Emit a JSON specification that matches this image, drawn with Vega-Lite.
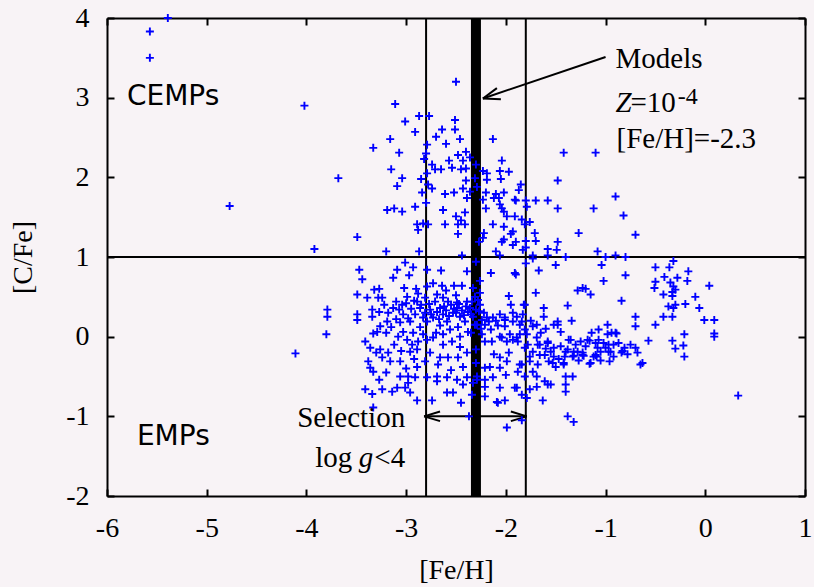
{
  "$schema": "https://vega.github.io/schema/vega-lite/v6.json",
  "width": 698,
  "height": 478,
  "autosize": "none",
  "padding": {"left": 107, "top": 18, "right": 9, "bottom": 91},
  "background": "#f8f3f6",
  "config": {
    "view": {"stroke": null},
    "axis": {
      "grid": false,
      "domainColor": "#000000",
      "domainWidth": 2,
      "tickColor": "#000000",
      "tickWidth": 2,
      "tickSize": -7,
      "labelFont": "Liberation Serif",
      "labelFontSize": 28,
      "labelColor": "#000000",
      "labelPadding": 25,
      "labelFlush": false,
      "labelOverlap": false,
      "labelBound": false,
      "labelExpr": "'' + datum.value",
      "titleFont": "Liberation Serif",
      "titleFontSize": 28,
      "titleFontWeight": "normal",
      "titleColor": "#000000"
    }
  },
  "datasets": {
    "stars": [
      {"x":-5.57,"y":3.83},{"x":-5.57,"y":3.50},{"x":-5.39,"y":4.00},{"x":-4.02,"y":2.90},{"x":-4.77,"y":1.64},{"x":-3.92,"y":1.10},{"x":-4.11,"y":-0.21},{"x":-3.68,"y":1.99},{"x":-3.49,"y":1.25},{"x":-3.79,"y":0.34},{"x":-3.79,"y":0.25},{"x":-3.80,"y":0.03},{"x":-3.33,"y":2.37},{"x":-3.20,"y":1.07},{"x":-3.47,"y":0.84},{"x":-3.44,"y":0.72},
      {"x":-3.11,"y":2.92},{"x":-2.87,"y":2.77},{"x":-2.77,"y":2.77},{"x":-3.01,"y":2.70},{"x":-2.51,"y":2.72},{"x":-2.91,"y":2.57},{"x":-2.64,"y":2.60},{"x":-2.51,"y":2.60},{"x":-3.16,"y":2.48},{"x":-2.70,"y":2.51},{"x":-2.60,"y":2.42},{"x":-2.46,"y":2.48},{"x":-2.13,"y":2.48},{"x":-2.79,"y":2.41},{"x":-3.07,"y":2.31},{"x":-2.80,"y":2.30},{"x":-2.82,"y":2.23},{"x":-2.48,"y":2.28},{"x":-2.40,"y":2.32},{"x":-2.57,"y":2.21},{"x":-2.43,"y":2.21},{"x":-2.36,"y":2.25},{"x":-2.04,"y":2.21},{"x":-3.15,"y":2.10},{"x":-2.74,"y":2.16},{"x":-2.71,"y":2.10},{"x":-2.65,"y":2.10},{"x":-2.54,"y":2.12},{"x":-2.45,"y":2.10},{"x":-2.40,"y":2.11},{"x":-2.30,"y":2.16},{"x":-2.23,"y":2.08},{"x":-2.19,"y":2.05},{"x":-2.06,"y":2.08},{"x":-1.97,"y":2.07},{"x":-3.04,"y":1.99},{"x":-2.85,"y":1.98},{"x":-2.79,"y":2.05},{"x":-2.40,"y":1.96},{"x":-2.31,"y":1.99},{"x":-2.19,"y":1.97},{"x":-2.05,"y":1.98},{"x":-1.48,"y":1.96},{"x":-3.09,"y":1.89},{"x":-2.78,"y":1.91},{"x":-2.74,"y":1.86},{"x":-2.29,"y":1.88},{"x":-1.85,"y":1.91},{"x":-1.87,"y":1.84},{"x":-2.84,"y":1.81},{"x":-2.61,"y":1.79},{"x":-2.52,"y":1.81},{"x":-2.43,"y":1.86},{"x":-2.39,"y":1.74},{"x":-2.36,"y":1.82},{"x":-2.23,"y":1.72},{"x":-2.20,"y":1.81},{"x":-2.10,"y":1.79},{"x":-2.02,"y":1.81},{"x":-2.12,"y":1.74},{"x":-2.07,"y":1.74},{"x":-1.90,"y":1.71},{"x":-1.80,"y":1.71},{"x":-1.70,"y":1.71},{"x":-1.58,"y":1.71},{"x":-2.91,"y":1.63},{"x":-2.80,"y":1.68},{"x":-3.19,"y":1.59},{"x":-3.12,"y":1.61},{"x":-3.04,"y":1.57},{"x":-2.63,"y":1.59},{"x":-2.41,"y":1.56},{"x":-2.20,"y":1.61},{"x":-2.04,"y":1.61},{"x":-2.02,"y":1.57},{"x":-1.79,"y":1.63},{"x":-1.48,"y":1.61},{"x":-2.50,"y":1.51},{"x":-2.45,"y":1.46},{"x":-1.99,"y":1.51},{"x":-1.91,"y":1.51},{"x":-1.84,"y":1.47},{"x":-1.76,"y":1.44},{"x":-2.89,"y":1.41},{"x":-2.83,"y":1.42},{"x":-2.78,"y":1.41},{"x":-2.61,"y":1.41},{"x":-2.48,"y":1.41},{"x":-2.41,"y":1.41},{"x":-2.13,"y":1.41},{"x":-2.02,"y":1.38},{"x":-1.81,"y":1.41},{"x":-2.88,"y":1.34},{"x":-2.48,"y":1.29},{"x":-1.93,"y":1.32},{"x":-1.95,"y":1.29},{"x":-1.71,"y":1.30},{"x":-2.22,"y":1.30},{"x":-2.23,"y":1.24},{"x":-2.27,"y":1.19},{"x":-2.02,"y":1.22},{"x":-2.04,"y":1.19},{"x":-1.90,"y":1.19},{"x":-1.93,"y":1.15},{"x":-1.80,"y":1.20},{"x":-1.80,"y":1.12},{"x":-1.70,"y":1.20},{"x":-1.58,"y":1.10},{"x":-1.48,"y":1.19},{"x":-2.87,"y":1.07},{"x":-2.10,"y":1.07},{"x":-1.83,"y":1.09},{"x":-2.44,"y":1.02},{"x":-2.06,"y":1.02},{"x":-1.73,"y":1.02},{"x":-1.58,"y":1.02},{"x":-1.49,"y":1.09},
      {"x":-2.50,"y":3.20},{"x":-1.42,"y":2.31},{"x":-1.10,"y":2.31},{"x":-0.90,"y":1.76},{"x":-2.06,"y":1.66},{"x":-1.91,"y":1.72},
      {"x":-1.12,"y":1.61},{"x":-0.82,"y":1.52},{"x":-0.70,"y":1.28},{"x":-1.27,"y":1.30},{"x":-1.08,"y":1.07},{"x":-1.00,"y":1.00},{"x":-0.90,"y":1.02},{"x":-0.80,"y":1.00},{"x":-1.40,"y":1.00},{"x":-1.04,"y":0.90},{"x":-0.80,"y":0.77},{"x":-1.02,"y":0.70},{"x":-0.50,"y":0.87},{"x":-0.36,"y":0.87},{"x":-0.32,"y":0.95},{"x":-0.17,"y":0.82},{"x":-0.41,"y":0.75},{"x":-0.28,"y":0.74},{"x":-0.18,"y":0.70},{"x":-0.50,"y":0.69},{"x":-0.51,"y":0.61},{"x":-0.35,"y":0.68},{"x":-0.32,"y":0.63},{"x":-0.30,"y":0.59},{"x":-0.33,"y":0.56},{"x":0.04,"y":0.64},{"x":-1.28,"y":0.58},{"x":-1.20,"y":0.60},{"x":-1.15,"y":0.53},{"x":-0.42,"y":0.53},{"x":-0.33,"y":0.51},{"x":-0.10,"y":0.50},{"x":-0.84,"y":0.45},{"x":-1.38,"y":0.39},{"x":-0.37,"y":0.38},{"x":-0.30,"y":0.40},{"x":-0.32,"y":0.36},{"x":-0.20,"y":0.41},{"x":-0.06,"y":0.36},{"x":-0.42,"y":0.25},{"x":-0.33,"y":0.25},{"x":-0.01,"y":0.21},{"x":0.09,"y":0.21},{"x":-1.34,"y":0.20},{"x":-0.70,"y":0.25},{"x":-0.70,"y":0.13},{"x":-0.50,"y":0.15},{"x":-0.98,"y":0.15},{"x":-1.07,"y":0.09},{"x":-1.14,"y":0.05},{"x":-0.94,"y":0.05},{"x":-0.89,"y":0.04},{"x":-0.21,"y":0.03},{"x":0.09,"y":0.04},{"x":0.09,"y":0.00},{"x":-0.57,"y":-0.05},{"x":-0.33,"y":-0.05},{"x":-0.22,"y":-0.11},{"x":-0.30,"y":-0.15},{"x":-0.21,"y":-0.25},{"x":-1.37,"y":-0.04},{"x":-1.25,"y":-0.06},{"x":-1.16,"y":-0.05},{"x":-1.07,"y":-0.04},{"x":-1.02,"y":-0.08},{"x":-0.97,"y":-0.10},{"x":-0.92,"y":-0.10},{"x":-1.08,"y":-0.14},{"x":-1.00,"y":-0.14},{"x":-0.97,"y":-0.19},{"x":-0.83,"y":-0.18},{"x":-0.81,"y":-0.14},{"x":-0.84,"y":-0.20},{"x":-0.70,"y":-0.14},{"x":-0.68,"y":-0.20},{"x":-1.40,"y":-0.19},{"x":-1.32,"y":-0.19},{"x":-1.23,"y":-0.20},{"x":-1.32,"y":-0.24},{"x":-1.22,"y":-0.24},{"x":-1.12,"y":-0.25},{"x":-1.09,"y":-0.25},{"x":-1.41,"y":-0.25},{"x":-0.96,"y":-0.31},{"x":-1.16,"y":-0.34},{"x":-0.63,"y":-0.33},{"x":-0.65,"y":-0.35},{"x":-1.42,"y":-0.35},{"x":-1.33,"y":-0.50},{"x":-1.40,"y":-0.50},{"x":-1.40,"y":-0.60},{"x":-1.40,"y":-0.69},{"x":0.33,"y":-0.74},{"x":-1.38,"y":-1.00},{"x":-1.32,"y":-1.07},
      {"x":-1.91,"y":0.80},{"x":-1.67,"y":0.83},{"x":-1.97,"y":0.51},{"x":-1.70,"y":0.55},{"x":-1.80,"y":0.92},{"x":-1.73,"y":0.98},{"x":-1.50,"y":0.90},{"x":-1.23,"y":0.61},{"x":-1.62,"y":0.36},{"x":-1.62,"y":0.25},{"x":-1.93,"y":0.30},{"x":-1.81,"y":0.40},{"x":-1.52,"y":0.15},{"x":-1.48,"y":0.19},{"x":-1.45,"y":0.06},{"x":-1.35,"y":-0.04},{"x":-1.18,"y":-0.04},{"x":-0.98,"y":0.03},{"x":-0.90,"y":0.05},{"x":-0.95,"y":-0.19},{"x":-1.05,"y":-0.19},{"x":-1.15,"y":-0.33},{"x":-1.10,"y":-0.23},{"x":-1.23,"y":-0.23},{"x":-1.28,"y":-0.19},{"x":-1.38,"y":-0.16},{"x":-1.33,"y":-0.25},{"x":-1.58,"y":-0.08},{"x":-1.55,"y":-0.19},{"x":-1.52,"y":-0.25},{"x":-1.42,"y":-0.33},{"x":-1.53,"y":-0.33},{"x":-1.61,"y":-0.23},{"x":-1.68,"y":-0.10},{"x":-1.73,"y":-0.19},{"x":-1.78,"y":-0.10},{"x":-1.76,"y":-0.25},{"x":-1.68,"y":-0.35},{"x":-1.73,"y":-0.44},{"x":-1.88,"y":-0.44},{"x":-1.81,"y":-0.50},{"x":-1.69,"y":-0.50},{"x":-1.61,"y":-0.56},{"x":-1.55,"y":-0.60},{"x":-1.69,"y":-0.63},{"x":-1.76,"y":-0.66},{"x":-1.91,"y":-0.64},{"x":-1.84,"y":-0.73},{"x":-1.79,"y":-0.77},{"x":-1.63,"y":-0.80},{"x":-2.01,"y":-0.80},{"x":-1.84,"y":-1.05},{"x":-1.99,"y":-1.14},{"x":-1.86,"y":0.15},{"x":-1.86,"y":0.03},{"x":-1.81,"y":0.09},{"x":-1.73,"y":0.13},{"x":-1.69,"y":0.15},{"x":-1.88,"y":-0.06},{"x":-1.81,"y":-0.14},{"x":-1.84,"y":-0.35},{"x":-1.97,"y":-0.20},{"x":-2.01,"y":0.21},{"x":-2.01,"y":0.13},{"x":-1.96,"y":0.03},{"x":-1.93,"y":-0.04},{"x":-2.04,"y":-0.01},{"x":-2.06,"y":-0.26},
      {"x":-3.09,"y":0.84},{"x":-3.01,"y":0.93},{"x":-2.93,"y":0.87},{"x":-2.97,"y":0.77},{"x":-3.13,"y":0.74},{"x":-2.79,"y":0.84},{"x":-2.65,"y":0.83},{"x":-2.39,"y":0.82},{"x":-2.15,"y":0.80},{"x":-1.90,"y":0.78},{"x":-2.26,"y":0.70},{"x":-2.73,"y":0.67},{"x":-2.64,"y":0.64},{"x":-2.52,"y":0.64},{"x":-2.44,"y":0.64},{"x":-2.33,"y":0.61},{"x":-3.32,"y":0.59},{"x":-3.27,"y":0.60},{"x":-3.49,"y":0.53},{"x":-3.39,"y":0.49},{"x":-3.28,"y":0.49},{"x":-3.24,"y":0.49},{"x":-3.02,"y":0.61},{"x":-2.99,"y":0.50},{"x":-2.88,"y":0.54},{"x":-2.79,"y":0.63},{"x":-3.10,"y":0.44},{"x":-3.04,"y":0.40},{"x":-3.13,"y":0.36},{"x":-2.89,"y":0.44},{"x":-2.81,"y":0.49},{"x":-2.69,"y":0.53},{"x":-2.63,"y":0.49},{"x":-2.58,"y":0.44},{"x":-2.49,"y":0.43},{"x":-2.39,"y":0.44},{"x":-2.31,"y":0.50},{"x":-2.26,"y":0.55},{"x":-3.49,"y":0.28},{"x":-3.49,"y":0.21},{"x":-3.34,"y":0.34},{"x":-3.34,"y":0.25},{"x":-3.27,"y":0.31},{"x":-3.18,"y":0.30},{"x":-3.19,"y":0.19},{"x":-3.07,"y":0.34},{"x":-3.03,"y":0.28},{"x":-3.06,"y":0.18},{"x":-2.96,"y":0.19},{"x":-2.91,"y":0.28},{"x":-2.86,"y":0.36},{"x":-2.81,"y":0.30},{"x":-2.76,"y":0.34},{"x":-2.73,"y":0.24},{"x":-2.79,"y":0.19},{"x":-2.66,"y":0.36},{"x":-2.63,"y":0.28},{"x":-2.59,"y":0.19},{"x":-2.53,"y":0.30},{"x":-2.49,"y":0.36},{"x":-2.46,"y":0.25},{"x":-2.41,"y":0.19},{"x":-2.38,"y":0.31},{"x":-2.33,"y":0.25},{"x":-2.31,"y":0.15},{"x":-2.24,"y":0.21},{"x":-2.21,"y":0.15},{"x":-2.13,"y":0.24},{"x":-2.06,"y":0.28},{"x":-2.01,"y":0.24},{"x":-1.93,"y":0.19},{"x":-1.89,"y":0.25},{"x":-1.83,"y":0.28},{"x":-1.82,"y":0.40},{"x":-1.84,"y":0.19},{"x":-1.48,"y":0.15},
      {"x":-3.33,"y":0.04},{"x":-3.29,"y":0.06},{"x":-3.26,"y":0.13},{"x":-3.08,"y":0.00},{"x":-3.03,"y":0.06},{"x":-2.99,"y":-0.04},{"x":-2.94,"y":-0.10},{"x":-2.89,"y":-0.16},{"x":-2.96,"y":-0.19},{"x":-2.88,"y":-0.06},{"x":-2.83,"y":0.03},{"x":-2.79,"y":-0.04},{"x":-2.73,"y":-0.01},{"x":-2.63,"y":0.03},{"x":-2.56,"y":0.09},{"x":-2.46,"y":0.00},{"x":-2.38,"y":0.06},{"x":-2.63,"y":-0.10},{"x":-2.54,"y":-0.06},{"x":-2.46,"y":-0.13},{"x":-2.39,"y":-0.20},{"x":-2.24,"y":0.03},{"x":-2.21,"y":-0.06},{"x":-2.14,"y":-0.06},{"x":-2.06,"y":0.00},{"x":-1.99,"y":-0.06},{"x":-1.89,"y":-0.01},{"x":-1.79,"y":0.03},{"x":-1.69,"y":-0.01},{"x":-1.66,"y":-0.10},{"x":-1.58,"y":-0.06},{"x":-1.52,"y":-0.14},{"x":-3.41,"y":-0.06},{"x":-3.36,"y":-0.14},{"x":-3.26,"y":-0.16},{"x":-3.18,"y":-0.20},{"x":-3.24,"y":-0.26},{"x":-3.16,"y":-0.31},{"x":-3.06,"y":-0.31},{"x":-3.38,"y":-0.31},{"x":-3.36,"y":-0.39},{"x":-3.33,"y":-0.44},{"x":-2.81,"y":-0.31},{"x":-2.89,"y":-0.38},{"x":-2.76,"y":-0.20},{"x":-2.66,"y":-0.26},{"x":-2.68,"y":-0.35},{"x":-2.58,"y":-0.26},{"x":-2.48,"y":-0.26},{"x":-2.43,"y":-0.38},{"x":-2.21,"y":-0.39},{"x":-2.16,"y":-0.38},{"x":-2.06,"y":-0.39},{"x":-1.99,"y":-0.31},{"x":-1.86,"y":-0.35},{"x":-1.76,"y":-0.31},{"x":-1.66,"y":-0.23},{"x":-1.57,"y":-0.31},{"x":-1.50,"y":-0.38},
      {"x":-3.06,"y":-0.50},{"x":-2.98,"y":-0.50},{"x":-2.91,"y":-0.51},{"x":-2.79,"y":-0.51},{"x":-2.69,"y":-0.50},{"x":-2.59,"y":-0.51},{"x":-2.49,"y":-0.54},{"x":-2.39,"y":-0.51},{"x":-2.29,"y":-0.50},{"x":-2.21,"y":-0.54},{"x":-2.13,"y":-0.51},{"x":-2.69,"y":-0.56},{"x":-2.43,"y":-0.60},{"x":-2.33,"y":-0.58},{"x":-2.21,"y":-0.63},{"x":-2.06,"y":-0.64},{"x":-1.89,"y":-0.64},{"x":-3.27,"y":-0.54},{"x":-3.41,"y":-0.66},{"x":-3.34,"y":-0.72},{"x":-3.24,"y":-0.66},{"x":-3.14,"y":-0.69},{"x":-3.09,"y":-0.64},{"x":-3.01,"y":-0.64},{"x":-2.98,"y":-0.58},{"x":-2.96,"y":-0.70},{"x":-2.89,"y":-0.80},{"x":-3.33,"y":-0.89},{"x":-2.74,"y":-0.80},{"x":-2.59,"y":-0.70},{"x":-2.53,"y":-0.70},{"x":-2.45,"y":-0.83},{"x":-2.34,"y":-0.73},{"x":-2.21,"y":-0.75},{"x":-2.09,"y":-0.82},{"x":-2.37,"y":-1.00},{"x":-2.08,"y":-0.83},{"x":-1.58,"y":-0.60},
      {"x":-2.30,"y":0.94},{"x":-2.28,"y":0.46},{"x":-2.30,"y":0.34},{"x":-2.29,"y":0.15},{"x":-2.30,"y":-0.16},{"x":-2.29,"y":-0.54},
      {"x":-3.00,"y":0.42},{"x":-2.95,"y":0.35},{"x":-2.92,"y":0.45},{"x":-2.85,"y":0.40},{"x":-2.83,"y":0.24},{"x":-2.77,"y":0.41},{"x":-2.75,"y":0.28},{"x":-2.71,"y":0.44},{"x":-2.69,"y":0.31},{"x":-2.67,"y":0.22},{"x":-2.62,"y":0.38},{"x":-2.60,"y":0.33},{"x":-2.57,"y":0.26},{"x":-2.55,"y":0.40},{"x":-2.52,"y":0.35},{"x":-2.50,"y":0.30},{"x":-2.47,"y":0.41},{"x":-2.44,"y":0.33},{"x":-2.42,"y":0.27},{"x":-2.40,"y":0.38},{"x":-2.36,"y":0.36},{"x":-2.35,"y":0.28},{"x":-2.34,"y":0.44},{"x":-2.27,"y":0.32},{"x":-2.26,"y":0.40},{"x":-2.22,"y":0.30},{"x":-2.19,"y":0.24},{"x":-2.17,"y":0.19},{"x":-2.10,"y":0.20},{"x":-2.08,"y":0.14},{"x":-2.15,"y":0.09},{"x":-2.25,"y":0.10},{"x":-2.35,"y":0.05},{"x":-2.48,"y":0.12},{"x":-2.66,"y":0.14},{"x":-2.70,"y":0.05},{"x":-2.86,"y":0.12},{"x":-2.93,"y":0.05},{"x":-3.10,"y":0.22},{"x":-3.15,"y":0.12},{"x":-3.22,"y":0.40},{"x":-3.20,"y":0.05},{"x":-2.98,"y":0.23},{"x":-2.90,"y":0.60},{"x":-2.60,"y":0.58},{"x":-2.50,"y":0.52},
      {"x":-1.45,"y":-0.12},{"x":-1.30,"y":-0.10},{"x":-1.20,"y":-0.12},{"x":-1.10,"y":-0.08},{"x":-1.05,"y":-0.30},{"x":-0.92,"y":-0.25},{"x":-0.87,"y":-0.08},{"x":-0.78,"y":-0.22},{"x":-0.75,"y":-0.10},{"x":-1.27,"y":-0.30},{"x":-1.47,"y":-0.28},{"x":-1.60,"y":-0.15},{"x":-1.65,"y":0.05},{"x":-1.75,"y":0.20},{"x":-1.95,"y":0.40},{"x":-1.60,"y":0.10},
      {"x":-3.30,"y":-0.20},{"x":-3.12,"y":-0.10},{"x":-3.05,"y":-0.18},{"x":-3.00,"y":-0.40},{"x":-3.20,"y":-0.45},{"x":-2.92,"y":-0.28},{"x":-2.55,"y":-0.42},{"x":-2.30,"y":-0.33},{"x":-2.12,"y":-0.22},{"x":-2.00,"y":-0.48}
    ],
    "segs": [
      {"x":-1.00,"y":3.51,"x2":-2.23,"y2":2.99},
      {"x":-2.23,"y":2.99,"x2":-2.05,"y2":2.98},
      {"x":-2.23,"y":2.99,"x2":-2.09,"y2":3.12},
      {"x":-2.82,"y":-1.0,"x2":-1.79,"y2":-1.0},
      {"x":-2.82,"y":-1.0,"x2":-2.66,"y2":-0.94},
      {"x":-2.82,"y":-1.0,"x2":-2.66,"y2":-1.06},
      {"x":-1.79,"y":-1.0,"x2":-1.95,"y2":-0.94},
      {"x":-1.79,"y":-1.0,"x2":-1.95,"y2":-1.06}
    ]
  },
  "layer": [
    {
      "data": {"values": [{"x": -2.8}, {"x": -1.8}]},
      "mark": {"type": "rule", "color": "#000000", "strokeWidth": 2},
      "encoding": {
        "x": {"field": "x", "type": "quantitative", "scale": {"domain": [-6, 1], "nice": false, "zero": false}, "axis": null}
      }
    },
    {
      "data": {"values": [{"x": -2.3}]},
      "mark": {"type": "rule", "color": "#000000", "strokeWidth": 10},
      "encoding": {
        "x": {"field": "x", "type": "quantitative", "scale": {"domain": [-6, 1], "nice": false, "zero": false}, "axis": null}
      }
    },
    {
      "data": {"values": [{"y": 1}]},
      "mark": {"type": "rule", "color": "#000000", "strokeWidth": 2},
      "encoding": {
        "y": {"field": "y", "type": "quantitative", "scale": {"domain": [-2, 4], "nice": false, "zero": false}, "axis": null}
      }
    },
    {
      "data": {"name": "segs"},
      "mark": {"type": "rule", "color": "#000000", "strokeWidth": 2},
      "encoding": {
        "x": {"field": "x", "type": "quantitative", "scale": {"domain": [-6, 1], "nice": false, "zero": false},
              "axis": {"orient": "top", "values": [-6, -5, -4, -3, -2, -1, 0, 1], "labels": false, "title": null}},
        "y": {"field": "y", "type": "quantitative", "scale": {"domain": [-2, 4], "nice": false, "zero": false},
              "axis": {"orient": "right", "values": [-2, -1, 0, 1, 2, 3, 4], "labels": false, "title": null}},
        "x2": {"field": "x2"},
        "y2": {"field": "y2"}
      }
    },
    {
      "data": {"name": "stars"},
      "mark": {"type": "point", "shape": "M-1,0H1M0,-1V1", "size": 64, "filled": false, "strokeWidth": 1.9, "color": "#0000ff", "opacity": 1},
      "encoding": {
        "x": {"field": "x", "type": "quantitative", "scale": {"domain": [-6, 1], "nice": false, "zero": false},
              "axis": {"orient": "bottom", "values": [-6, -5, -4, -3, -2, -1, 0, 1], "title": "[Fe/H]", "titlePadding": 14}},
        "y": {"field": "y", "type": "quantitative", "scale": {"domain": [-2, 4], "nice": false, "zero": false},
              "axis": {"orient": "left", "values": [-2, -1, 0, 1, 2, 3, 4], "title": "[C/Fe]", "titlePadding": 28}}
      }
    },
    {
      "data": {"values": [{"x": -5.80, "y": 2.91, "t": "CEMPs"}, {"x": -5.70, "y": -1.355, "t": "EMPs"}]},
      "mark": {"type": "text", "align": "left", "baseline": "alphabetic", "font": "DejaVu Sans", "fontSize": 28, "color": "#000000"},
      "encoding": {
        "x": {"field": "x", "type": "quantitative", "axis": null},
        "y": {"field": "y", "type": "quantitative", "axis": null},
        "text": {"field": "t"}
      }
    },
    {
      "data": {"values": [{"x": -0.90, "y": 3.375, "t": "Models"}, {"x": -0.75, "y": 2.82, "t": "=10"}, {"x": -0.89, "y": 2.37, "t": "[Fe/H]=-2.3"}]},
      "mark": {"type": "text", "align": "left", "baseline": "alphabetic", "font": "Liberation Serif", "fontSize": 29, "color": "#000000"},
      "encoding": {
        "x": {"field": "x", "type": "quantitative", "axis": null},
        "y": {"field": "y", "type": "quantitative", "axis": null},
        "text": {"field": "t"}
      }
    },
    {
      "data": {"values": [{"x": -0.90, "y": 2.82, "t": "Z"}]},
      "mark": {"type": "text", "align": "left", "baseline": "alphabetic", "font": "Liberation Serif", "fontStyle": "italic", "fontSize": 29, "color": "#000000"},
      "encoding": {
        "x": {"field": "x", "type": "quantitative", "axis": null},
        "y": {"field": "y", "type": "quantitative", "axis": null},
        "text": {"field": "t"}
      }
    },
    {
      "data": {"values": [{"x": -0.275, "y": 2.92, "t": "-4"}]},
      "mark": {"type": "text", "align": "left", "baseline": "alphabetic", "font": "Liberation Serif", "fontSize": 24, "color": "#000000"},
      "encoding": {
        "x": {"field": "x", "type": "quantitative", "axis": null},
        "y": {"field": "y", "type": "quantitative", "axis": null},
        "text": {"field": "t"}
      }
    },
    {
      "data": {"values": [{"x": -3.01, "y": -1.14, "t": "Selection"}, {"x": -3.54, "y": -1.63, "t": "log"}, {"x": -3.01, "y": -1.63, "t": "<4"}]},
      "mark": {"type": "text", "align": "right", "baseline": "alphabetic", "font": "Liberation Serif", "fontSize": 29, "color": "#000000"},
      "encoding": {
        "x": {"field": "x", "type": "quantitative", "axis": null},
        "y": {"field": "y", "type": "quantitative", "axis": null},
        "text": {"field": "t"}
      }
    },
    {
      "data": {"values": [{"x": -3.33, "y": -1.63, "t": "g"}]},
      "mark": {"type": "text", "align": "right", "baseline": "alphabetic", "font": "Liberation Serif", "fontStyle": "italic", "fontSize": 29, "color": "#000000"},
      "encoding": {
        "x": {"field": "x", "type": "quantitative", "axis": null},
        "y": {"field": "y", "type": "quantitative", "axis": null},
        "text": {"field": "t"}
      }
    }
  ],
  "resolve": {"axis": {"x": "independent", "y": "independent"}}
}
